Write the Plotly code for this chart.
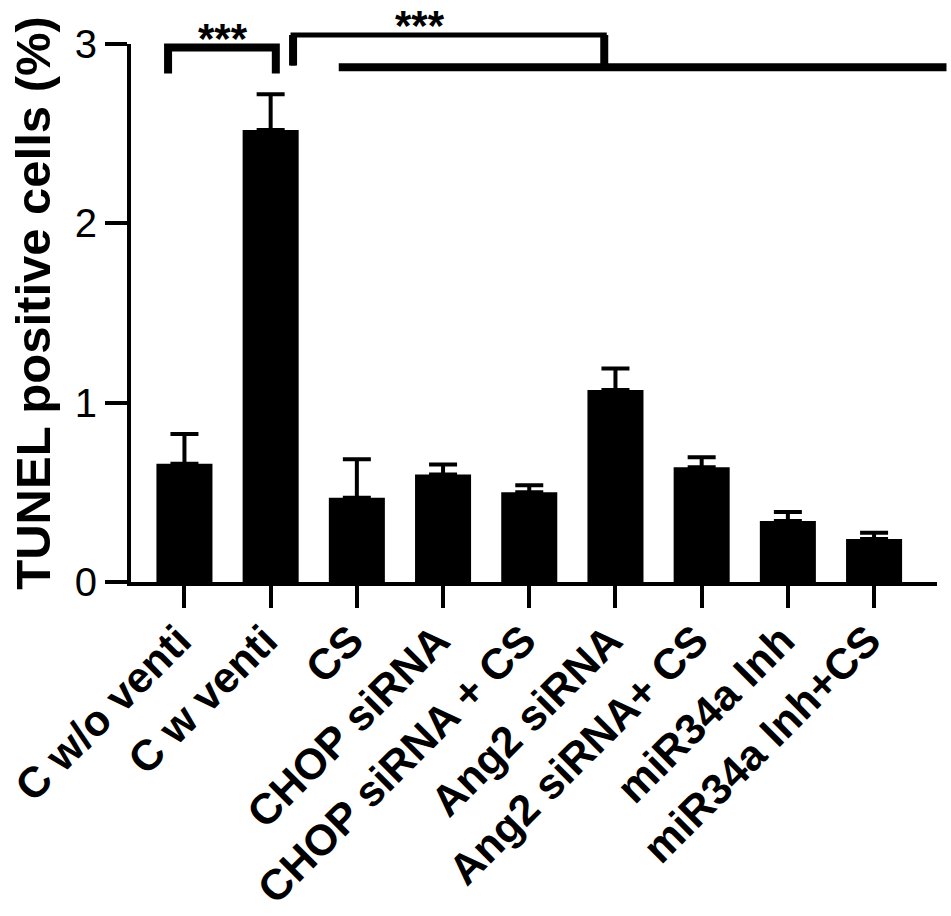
import plotly.graph_objects as go

categories = ["C w/o venti", "C w venti", "CS", "CHOP siRNA", "CHOP siRNA + CS",
              "Ang2 siRNA", "Ang2 siRNA+ CS", "miR34a Inh", "miR34a Inh+CS"]
means = [0.66, 2.52, 0.47, 0.60, 0.50, 1.07, 0.64, 0.34, 0.24]
sem_plus = [0.165, 0.20, 0.215, 0.055, 0.04, 0.12, 0.055, 0.05, 0.035]
y_ticks = [0, 1, 2, 3]

# significance brackets in data units: (category index, value)
bracket1 = {"x0": -0.19, "x1": 1.06, "top": 2.98, "bottom": 2.835, "label": "***",
            "label_x": 0.45, "label_y": 3.03}
bracket2 = {"x0": 1.26, "x1": 4.87, "top": 3.05, "bottom": 2.88, "label": "***",
            "label_x": 2.73, "label_y": 3.105}
span_line = {"x0": 1.79, "x1": 8.84, "y": 2.87}

X_RANGE = [-0.62, 8.73]
Y_RANGE = [0, 3]
FONT = "Arial, 'Liberation Sans', Helvetica, sans-serif"


def px_(ix):
    return (ix - X_RANGE[0]) / (X_RANGE[1] - X_RANGE[0])


def py_(v):
    return (v - Y_RANGE[0]) / (Y_RANGE[1] - Y_RANGE[0])


fig = go.Figure()
fig.add_trace(go.Bar(
    x=list(range(len(categories))),
    y=means,
    width=0.65,
    marker=dict(color="black", line=dict(width=0)),
    error_y=dict(type="data", array=sem_plus, arrayminus=[0] * len(means),
                 symmetric=False, color="black", thickness=4, width=14),
))

shapes = []
shapes.append(dict(type="path", xref="paper", yref="paper",
                   path=f"M {px_(bracket1['x0'])},{py_(bracket1['bottom'])} "
                        f"L {px_(bracket1['x0'])},{py_(bracket1['top'])} "
                        f"L {px_(bracket1['x1'])},{py_(bracket1['top'])} "
                        f"L {px_(bracket1['x1'])},{py_(bracket1['bottom'])}",
                   line=dict(color="black", width=8)))
shapes.append(dict(type="path", xref="paper", yref="paper",
                   path=f"M {px_(bracket2['x0'])},{py_(bracket2['bottom'])} "
                        f"L {px_(bracket2['x0'])},{py_(bracket2['top'])} "
                        f"L {px_(bracket2['x1'])},{py_(bracket2['top'])} "
                        f"L {px_(bracket2['x1'])},{py_(span_line['y'])}",
                   line=dict(color="black", width=5)))
shapes.append(dict(type="line", xref="paper", yref="paper",
                   x0=px_(bracket2['x0']), x1=px_(bracket2['x0']),
                   y0=py_(bracket2['bottom']), y1=py_(bracket2['top']),
                   line=dict(color="black", width=8)))
shapes.append(dict(type="line", xref="paper", yref="paper",
                   x0=px_(bracket2['x1']), x1=px_(bracket2['x1']),
                   y0=py_(span_line['y']), y1=py_(bracket2['top']),
                   line=dict(color="black", width=8)))
shapes.append(dict(type="line", xref="paper", yref="paper",
                   x0=px_(span_line['x0']), x1=px_(span_line['x1']),
                   y0=py_(span_line['y']), y1=py_(span_line['y']),
                   line=dict(color="black", width=8)))

annotations = [
    dict(text=bracket1["label"], xref="paper", yref="paper",
         x=px_(bracket1["label_x"]), y=py_(bracket1["label_y"]),
         showarrow=False, xanchor="center", yanchor="middle",
         font=dict(family=FONT, size=42, color="black", weight="bold")),
    dict(text=bracket2["label"], xref="paper", yref="paper",
         x=px_(bracket2["label_x"]), y=py_(bracket2["label_y"]),
         showarrow=False, xanchor="center", yanchor="middle",
         font=dict(family=FONT, size=42, color="black", weight="bold")),
    dict(text="TUNEL positive cells (%)", xref="paper", yref="paper",
         x=-0.121, y=0.52, textangle=-90, showarrow=False,
         xanchor="center", yanchor="middle",
         font=dict(family=FONT, size=49, color="black", weight="bold")),
]

fig.update_layout(
    width=951, height=916,
    margin=dict(l=131, r=14, t=44, b=334, autoexpand=False),
    paper_bgcolor="white", plot_bgcolor="white",
    showlegend=False,
    shapes=shapes,
    annotations=annotations,
)
fig.update_xaxes(
    range=X_RANGE, tickmode="array", tickvals=list(range(len(categories))),
    ticktext=categories, tickangle=-45, automargin=False,
    ticklabelstandoff=-10, ticklabelshift=-6, ticklabeloverflow="allow",
    showline=True, linecolor="black", linewidth=4,
    ticks="outside", ticklen=22, tickwidth=4, tickcolor="black",
    showgrid=False, zeroline=False,
    tickfont=dict(family=FONT, size=43, color="black", weight="bold"),
)
fig.update_yaxes(
    range=Y_RANGE, tickmode="array", tickvals=y_ticks, automargin=False,
    showline=True, linecolor="black", linewidth=4,
    ticks="outside", ticklen=22, tickwidth=4, tickcolor="black",
    showgrid=False, zeroline=False,
    tickfont=dict(family=FONT, size=40, color="black"),
)

fig.write_html("out.html",
               config={"displayModeBar": False},
               post_script="document.body.style.margin='0px';"
                           "document.body.style.overflow='hidden';")
